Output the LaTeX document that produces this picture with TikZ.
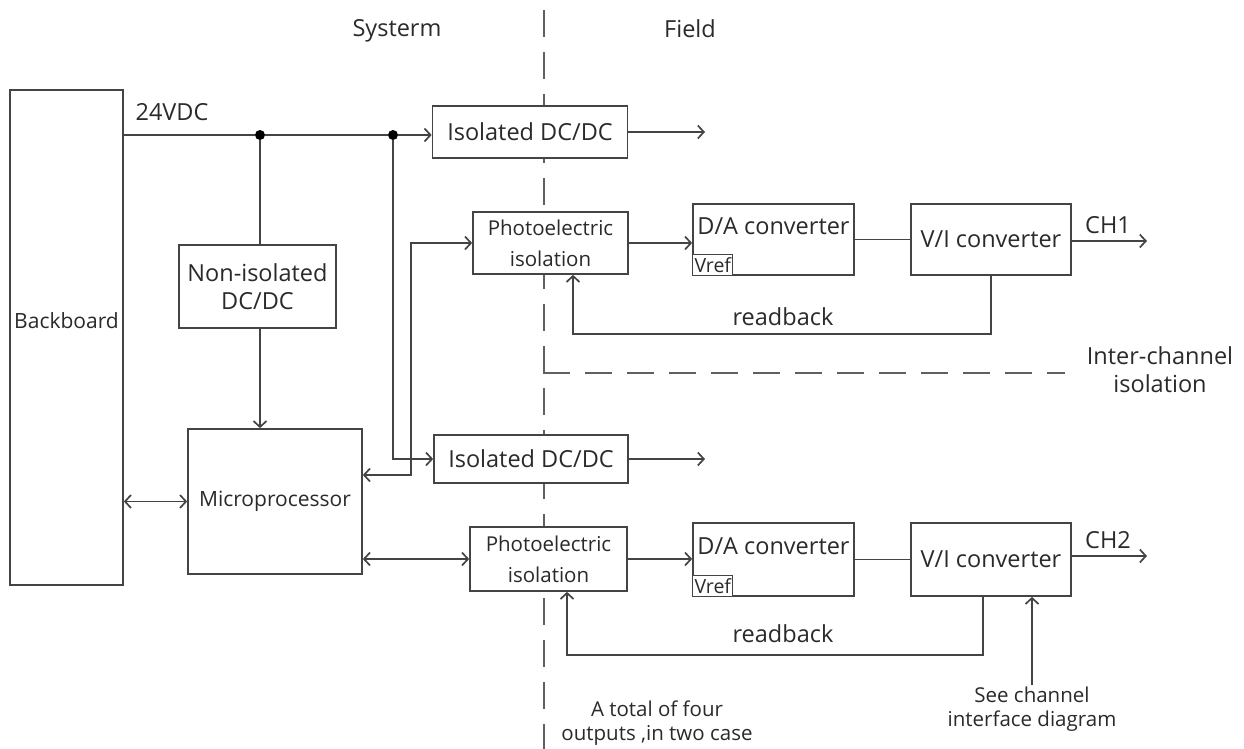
\documentclass[tikz,border=0pt]{standalone}
\usepackage{fontspec}
\setmainfont{Open Sans}
\usetikzlibrary{arrows.meta}
\definecolor{LineDark}{HTML}{444444}
\definecolor{TextDark}{HTML}{2A2A2A}
\tikzset{
  blockbox/.style={draw=LineDark, line width=1.7pt, fill=white, align=center, inner sep=2pt, text=TextDark},
  bigfont/.style={font=\fontsize{23.5}{28}\selectfont},
  midfont/.style={font=\fontsize{21}{27}\selectfont},
  photofont/.style={font=\fontsize{20.5}{31}\selectfont},
  notefont/.style={font=\fontsize{20.5}{24.5}\selectfont},
  vrefbox/.style={draw=LineDark, line width=1.3pt, fill=white, inner sep=0pt, minimum width=40pt, minimum height=21pt, font=\fontsize{19.5}{19.5}\selectfont, text=TextDark},
  plain/.style={text=TextDark, align=center, inner sep=1pt},
  wire/.style={line width=1.7pt, draw=LineDark},
  arrow/.style={-{Straight Barb[length=6pt, width=13pt]}, line width=1.7pt, draw=LineDark},
  twoway/.style={{Straight Barb[length=6pt, width=13pt]}-{Straight Barb[length=6pt, width=13pt]}, line width=1.7pt, draw=LineDark},
  sepline/.style={line width=1.8pt, draw=LineDark!85, dash pattern=on 27pt off 15pt},
  junction/.style={circle, fill=black, inner sep=0pt, minimum size=10pt}
}

\begin{document}
\begin{tikzpicture}[x=1pt, y=-1pt]
\useasboundingbox (0,0) rectangle (1244,749);
% system / field border
\draw[sepline] (544,10) -- (544,749);
\draw[sepline] (543,373) -- (1065,373);
\node[plain, bigfont] (sys) at (397,31) {Systerm};
\node[plain, bigfont] (field) at (690,29) {Field};
\node[plain, bigfont] (interch) at (1160,370) {Inter-channel\\isolation};

\node[blockbox, midfont, minimum width=113pt, minimum height=495pt, text depth=34pt] (backboard) at (66.5,337.5) {Backboard};
\node[blockbox, bigfont, minimum width=157pt, minimum height=83pt] (nonisodc) at (257.5,286.5) {Non-isolated\\DC/DC};
\node[blockbox, midfont, minimum width=174pt, minimum height=145pt] (micro) at (275,501.5) {Microprocessor};
\node[blockbox, bigfont, minimum width=195pt, minimum height=52pt] (isodc1) at (530,132) {Isolated DC/DC};
\node[blockbox, bigfont, minimum width=194pt, minimum height=48pt] (isodc2) at (531,459) {Isolated DC/DC};

% channel 1
\node[blockbox, photofont, minimum width=155pt, minimum height=62pt] (photo1) at (550.5,243) {Photoelectric\\isolation};
\node[blockbox, bigfont, minimum width=161pt, minimum height=71pt, text depth=26pt] (da1) at (773.5,239.5) {D/A converter};
\node[vrefbox, anchor=south west] (vref1) at (da1.south west) {Vref};
\node[blockbox, bigfont, minimum width=160pt, minimum height=71pt] (vi1) at (991,239.5) {V/I converter};
% channel 2
\node[blockbox, photofont, minimum width=157pt, minimum height=64pt] (photo2) at (548.5,559) {Photoelectric\\isolation};
\node[blockbox, bigfont, minimum width=161pt, minimum height=73pt, text depth=26pt] (da2) at (773.5,559.5) {D/A converter};
\node[vrefbox, anchor=south west] (vref2) at (da2.south west) {Vref};
\node[blockbox, bigfont, minimum width=160pt, minimum height=73pt] (vi2) at (991,559.5) {V/I converter};

% power bus
\node[junction] (dotA) at (260,135) {};
\node[junction] (dotB) at (393,135) {};
\node[plain, bigfont] (vdc) at (172,112) {24VDC};
\draw[wire] (backboard.east |- dotA) -- (dotA) -- (dotB);
\draw[arrow] (dotB) -- (isodc1.west |- dotB);
\draw[wire] (dotA) -- (dotA |- nonisodc.north);
\draw[arrow] (dotA |- nonisodc.south) -- (dotA |- micro.north);
\draw[arrow] (dotB) |- (isodc2.west);
\coordinate (out1) at (705,132);
\coordinate (out2) at (705,457);
\draw[arrow] (isodc1.east) -- (isodc1.east -| out1);
\draw[arrow] (isodc2.east) -- (isodc2.east -| out2);

% data paths
\draw[twoway] (backboard.east |- micro.west) -- (micro.west);
\draw[twoway] ([yshift=26.5pt]micro.east) -- ++(48,0) |- (photo1.west);
\draw[twoway] (micro.east |- photo2.west) -- (photo2.west);
\draw[arrow] (photo1.east) -- (photo1.east -| da1.west);
\draw[wire] (da1.east) -- (vi1.west);
\draw[arrow] (photo2.east) -- (photo2.east -| da2.west);
\draw[wire] (da2.east) -- (vi2.west);

% outputs
\coordinate (ch1end) at (1147,241);
\coordinate (ch2end) at (1147,556);
\draw[arrow] (vi1.east |- ch1end) -- (ch1end);
\draw[arrow] (vi2.east |- ch2end) -- (ch2end);
\node[plain, bigfont] (ch1) at (1108,225) {CH1};
\node[plain, bigfont] (ch2) at (1108,540) {CH2};

% readback loops
\draw[arrow] (vi1.south) -- ++(0,58) -| ([xshift=22.5pt]photo1.south);
\draw[arrow] ([xshift=-8pt]vi2.south) -- ++(0,58) -| ([xshift=18.5pt]photo2.south);
\node[plain, bigfont] (rb1) at (783,317) {readback};
\node[plain, bigfont] (rb2) at (783,634) {readback};

\node[plain, notefont] (seech) at (1032,709) {See channel\\interface diagram};
\draw[arrow] (seech.north) -- (seech.north |- vi2.south);
\node[plain, notefont] (total) at (657,723) {A total of four\\outputs ,in two case};
\end{tikzpicture}
\end{document}
